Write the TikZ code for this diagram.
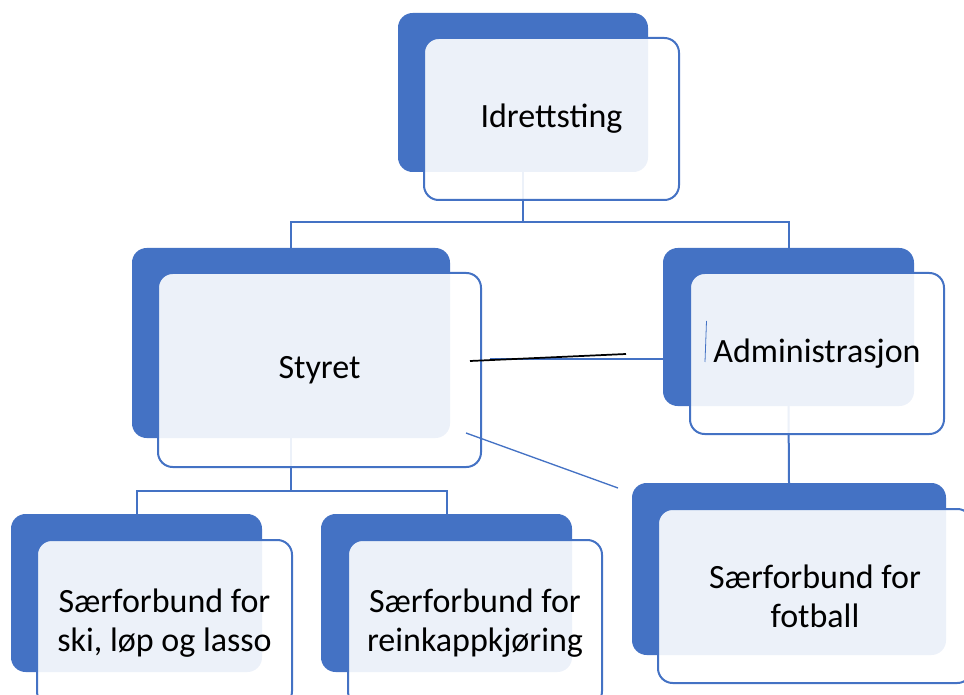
\documentclass[tikz,border=0pt]{standalone}
\usepackage{fontspec}
\setmainfont{Carlito}
\definecolor{orgblaa}{HTML}{4472C4}
\tikzset{
    %bakre boks, fylt blaa
    bak/.style={
           rectangle,
           rounded corners=11pt,
           fill=orgblaa,
           inner sep=0pt, outer sep=0pt},
    %fremre boks med tekst
    fram/.style={
           rectangle,
           rounded corners=11pt,
           draw=orgblaa, line width=1.5pt,
           fill=white, fill opacity=0.9, text opacity=1,
           inner sep=0pt, outer sep=0pt,
           align=center,
           font=\fontsize{25.5}{29}\selectfont},
    % linjer mellom boksene
    linje/.style={
           draw=orgblaa, line width=1.5pt}
}
\begin{document}
\begin{tikzpicture}[x=0.75pt,y=-0.75pt]
\useasboundingbox (0,0) rectangle (964,695);
 %bakre bokser
\node[bak, minimum width=187.5pt, minimum height=119.25pt] (idr) at (523,92.5) {};
\node[bak, minimum width=238.5pt, minimum height=142.5pt] (sty) at (291,343) {};
\node[bak, minimum width=188.25pt, minimum height=118.5pt] (adm) at (788.5,327) {};
\node[bak, minimum width=235.5pt, minimum height=129pt] (fot) at (789,569) {};
\node[bak, minimum width=188.25pt, minimum height=118.5pt] (ski) at (136.5,593) {};
\node[bak, minimum width=188.25pt, minimum height=118.5pt] (rein) at (446.5,593) {};

 %linjer
\draw[linje] (idr.south) -- ++(0,50) -| (sty.north);
\draw[linje] (idr.south) -- ++(0,50) -| (adm.north);
\draw[linje] (sty.south) -- ++(0,53) -| (ski.north);
\draw[linje] (sty.south) -- ++(0,53) -| (rein.north);
\draw[linje] (adm.south) -- (fot.north);

 %fremre bokser
\node[fram, minimum width=191.25pt, minimum height=121.5pt] (idrf) at (551.5,119) {Idrettsting};
\node[fram, minimum width=242.25pt, minimum height=145.5pt] (styf) at (319.5,370) {Styret};
\node[fram, minimum width=190.5pt, minimum height=120.75pt] (admf) at (817,353.5) {Administrasjon};
\node[fram, minimum width=235.5pt, minimum height=130.5pt] (fotf) at (815,596) {Særforbund for\\fotball};
\node[fram, minimum width=191.25pt, minimum height=124.5pt] (skif) at (164.5,623) {Særforbund for\\ski, løp og lasso};
\node[fram, minimum width=190.5pt, minimum height=124.5pt] (reinf) at (475,623) {Særforbund for\\reinkappkjøring};

 %strek for haand
\coordinate (a1) at (490,359);
\coordinate (a2) at (663,359);
\coordinate (h1) at (470,361);
\coordinate (h2) at (626,354);
\coordinate (d1) at (466,433);
\coordinate (d2) at (618,488);
\coordinate (v1) at (706.5,321);
\coordinate (v2) at (705,362);
\draw[orgblaa, line width=0.8pt] (a1) -- (a2);
\draw[black, line width=1.3pt] (h1) -- (h2);
\draw[orgblaa, line width=1pt] (d1) -- (d2);
\draw[orgblaa, line width=0.6pt] (v1) -- (v2);
\end{tikzpicture}
\end{document}
